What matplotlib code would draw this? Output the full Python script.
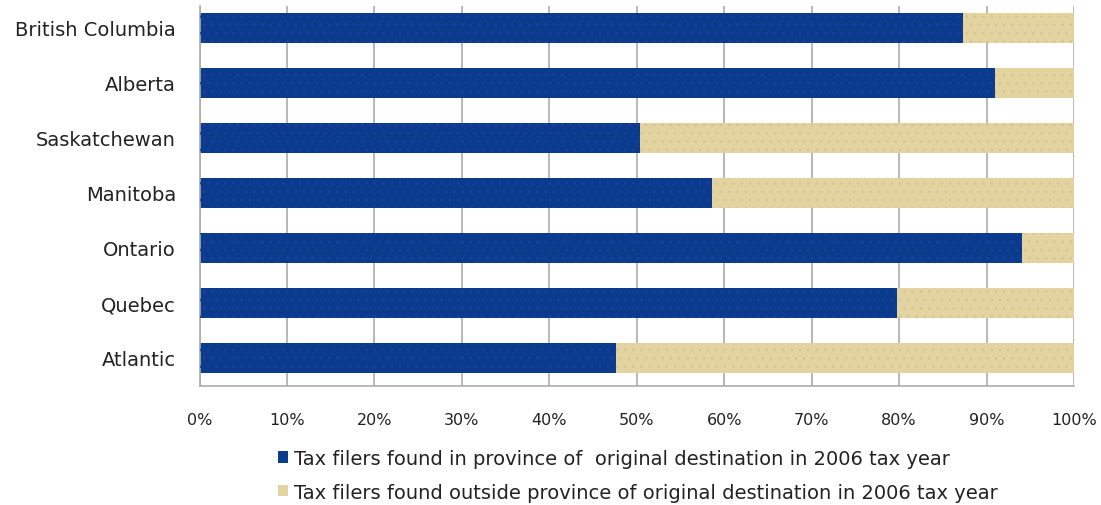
import matplotlib.pyplot as plt
from matplotlib.patches import Patch

provinces = ["British Columbia", "Alberta", "Saskatchewan", "Manitoba",
             "Ontario", "Quebec", "Atlantic"]
inside = [87.3, 91.0, 50.4, 58.6, 94.0, 79.8, 47.6]
outside = [100 - v for v in inside]
xticks = [0, 10, 20, 30, 40, 50, 60, 70, 80, 90, 100]
label_in = "Tax filers found in province of  original destination in 2006 tax year"
label_out = "Tax filers found outside province of original destination in 2006 tax year"

BLUE = "#0a3b8c"
TAN = "#e2d3a1"
GRID = "#acacac"

plt.rcParams["font.family"] = ["DejaVu Sans"]
plt.rcParams["hatch.linewidth"] = 0.6

fig = plt.figure(figsize=(11.01, 5.06), dpi=100)
ax = fig.add_axes([0.1812, 0.2352, 0.7943, 0.751])

ypos = list(range(len(provinces) - 1, -1, -1))
ax.barh(ypos, inside, height=0.55, color=BLUE, zorder=2)
ax.barh(ypos, outside, left=inside, height=0.55, color=TAN, zorder=2)
# dotted texture
ax.barh(ypos, inside, height=0.55, facecolor="none", edgecolor="#2040a8",
        hatch="..", linewidth=0, zorder=3)
ax.barh(ypos, outside, left=inside, height=0.55, facecolor="none",
        edgecolor="#d6c48e", hatch="..", linewidth=0, zorder=3)

ax.set_xlim(0, 100)
ax.set_ylim(-0.51, 6.4)
ax.set_xticks(xticks)
ax.set_xticklabels([f"{t}%" for t in xticks])
ax.set_yticks(ypos)
ax.set_yticklabels(provinces)
ax.xaxis.grid(True, color=GRID, linewidth=1.2, zorder=0)
ax.set_axisbelow(True)
ax.tick_params(axis="both", length=0, colors="#222222")
ax.tick_params(axis="x", pad=19, labelsize=11.5)
ax.tick_params(axis="y", pad=17, labelsize=14)
for s in ["top", "right"]:
    ax.spines[s].set_visible(False)
for s in ["left", "bottom"]:
    ax.spines[s].set_color(GRID)
    ax.spines[s].set_linewidth(1.2)

handles = [Patch(facecolor=BLUE, label=label_in),
           Patch(facecolor=TAN, label=label_out)]
fig.legend(handles=handles, loc="upper left", bbox_to_anchor=(0.244, 0.13),
           frameon=False, fontsize=14, handlelength=0.5, handleheight=0.5,
           handletextpad=0.3, labelspacing=0.75, borderpad=0,
           labelcolor="#222222")

fig.savefig("out.png", dpi=100)
